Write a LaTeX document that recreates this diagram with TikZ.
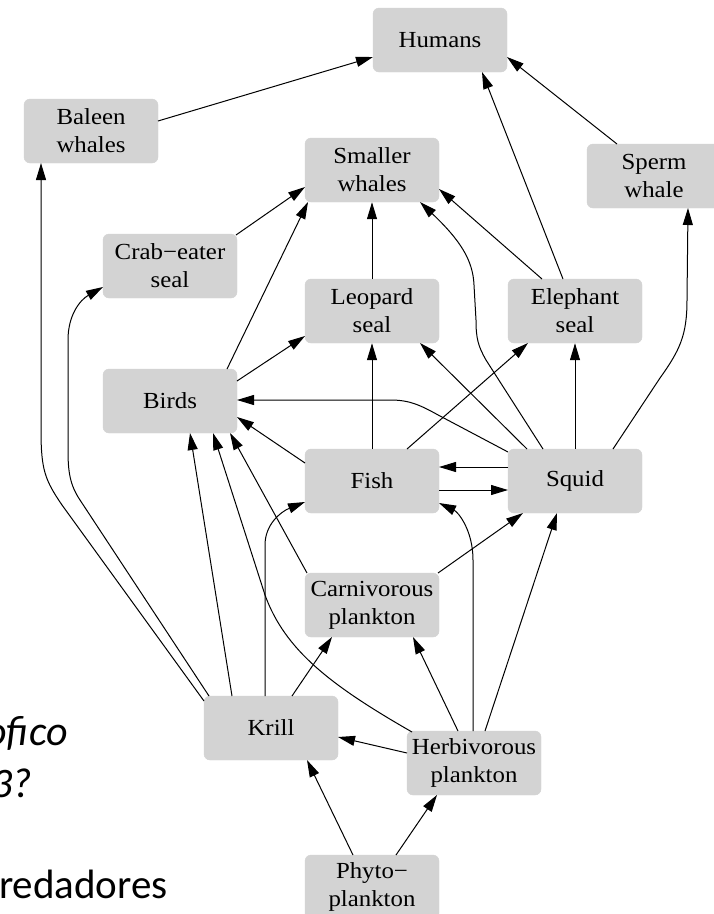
\documentclass[tikz,border=0pt]{standalone}
\usepackage{fontspec}
\setmainfont{Liberation Serif}[FakeStretch=1.08]
\newfontfamily\slidefont{Carlito}
\usetikzlibrary{arrows.meta,calc}
\definecolor{boxgray}{RGB}{211,211,211}
\begin{document}
\begin{tikzpicture}[x=1pt,y=-1pt,
  box/.style={fill=boxgray, draw=boxgray, rounded corners=6pt, minimum width=134pt, minimum height=64pt, inner sep=0pt, align=center, font=\fontsize{23}{28}\selectfont, text=black},
  edge/.style={-{Triangle[length=17pt,width=10pt]}, line width=1pt, black},
  slide/.style={anchor=base east, inner sep=0pt, font=\slidefont\fontsize{41}{49}\selectfont}]
\clip (0,0) rectangle (714,914);
\fill[white] (0,0) rectangle (714,914);
% left slide text remnants
\node[slide, font=\slidefont\itshape\fontsize{42}{50}\selectfont] (t1) at (68,745) {ofico};
\node[slide, font=\slidefont\itshape\fontsize{42}{50}\selectfont] (t2) at (32,797) {3?};
\node[slide] (t3) at (168,898) {redadores};
% nodes
\node[box] (humans) at (440,40) {Humans};
\node[box] (baleen) at (91,131) {Baleen\\whales};
\node[box] (smaller) at (372,170) {Smaller\\whales};
\node[box] (sperm) at (654,176) {Sperm\\whale};
\node[box] (crab) at (170,266) {Crab−eater\\seal};
\node[box] (leopard) at (372,311) {Leopard\\seal};
\node[box] (elephant) at (575,311) {Elephant\\seal};
\node[box] (birds) at (170,401) {Birds};
\node[box] (fish) at (372,481) {Fish};
\node[box] (squid) at (575,481) {Squid};
\node[box] (carn) at (372,605) {Carnivorous\\plankton};
\node[box] (krill) at (271,728) {Krill};
\node[box] (herb) at (474,763) {Herbivorous\\plankton};
\node[box] (phyto) at (372,887) {Phyto−\\plankton};
% edges
\draw[edge] ($(baleen.center)+(67,-10)$) -- ($(humans.center)+(-67,17)$);
\draw[edge] ($(elephant.center)+(-12,-32)$) -- ($(humans.center)+(42,32)$);
\draw[edge] ($(sperm.center)+(-37,-32)$) -- ($(humans.center)+(67,17)$);
\draw[edge] ($(crab.center)+(66,-31)$) -- ($(smaller.center)+(-67,17)$);
\draw[edge] ($(birds.center)+(57,-32)$) -- ($(smaller.center)+(-64,32)$);
\draw[edge] (leopard.north) -- (smaller.south);
\draw[edge] ($(squid.center)+(-32,-32)$) -- (486,360) .. controls (478,346) and (476,338) .. (476,320) -- (474,285) .. controls (473,260) and (460,240) .. ($(smaller.center)+(48,32)$);
\draw[edge] ($(elephant.center)+(-33,-32)$) -- ($(smaller.center)+(67,19)$);
\draw[edge] ($(krill.center)+(-67,-27)$) -- (62,505) .. controls (45,480) and (41,470) .. (41,430) -- ($(baleen.center)+(-50,32)$);
\draw[edge] ($(krill.center)+(-62,-32)$) -- (80,500) .. controls (70,485) and (68,472) .. (68,450) -- (68,340) .. controls (68,315) and (80,300) .. ($(crab.center)+(-67,21)$);
\draw[edge] ($(krill.center)+(-39,-32)$) -- ($(birds.center)+(20,32)$);
\draw[edge] ($(herb.center)+(-62,-31)$) .. controls (330,685) and (285,650) .. (265,595) -- ($(birds.center)+(43,32)$);
\draw[edge] ($(carn.center)+(-65,-32)$) -- ($(birds.center)+(60,32)$);
\draw[edge] ($(fish.center)+(-67,-18)$) -- ($(birds.center)+(67,16)$);
\draw[edge] ($(squid.center)+(-67,-29)$) -- (440,416) .. controls (420,405) and (410,400) .. (390,400) -- ($(birds.center)+(67,-1)$);
\draw[edge] ($(birds.center)+(67,-20)$) -- ($(leopard.center)+(-67,25)$);
\draw[edge] (fish.north) -- (leopard.south);
\draw[edge] ($(squid.center)+(-48,-32)$) -- ($(leopard.center)+(48,32)$);
\draw[edge] ($(fish.center)+(35,-32)$) -- ($(elephant.center)+(-47,32)$);
\draw[edge] (squid.north) -- (elephant.south);
\draw[edge] ($(squid.center)+(38,-32)$) -- (660,378) .. controls (680,350) and (687,335) .. (687,300) -- ($(sperm.center)+(34,32)$);
\draw[edge] ($(squid.center)+(-67,-14)$) -- ($(fish.center)+(67,-14)$);
\draw[edge] ($(fish.center)+(67,9)$) -- ($(squid.center)+(-67,9)$);
\draw[edge] ($(krill.center)+(-6,-32)$) -- (265,545) .. controls (265,525) and (280,512) .. ($(fish.center)+(-67,21)$);
\draw[edge] ($(herb.center)+(-1,-32)$) -- (473,560) .. controls (473,530) and (458,512) .. ($(fish.center)+(67,22)$);
\draw[edge] ($(carn.center)+(66,-32)$) -- ($(squid.center)+(-52,32)$);
\draw[edge] ($(herb.center)+(11,-32)$) -- ($(squid.center)+(-18,32)$);
\draw[edge] ($(krill.center)+(21,-32)$) -- ($(carn.center)+(-40,32)$);
\draw[edge] ($(herb.center)+(-16,-32)$) -- ($(carn.center)+(41,32)$);
\draw[edge] ($(herb.center)+(-67,-10)$) -- ($(krill.center)+(67,9)$);
\draw[edge] ($(phyto.center)+(-19,-32)$) -- ($(krill.center)+(36,32)$);
\draw[edge] ($(phyto.center)+(24,-32)$) -- ($(herb.center)+(-37,32)$);
\end{tikzpicture}
\end{document}
